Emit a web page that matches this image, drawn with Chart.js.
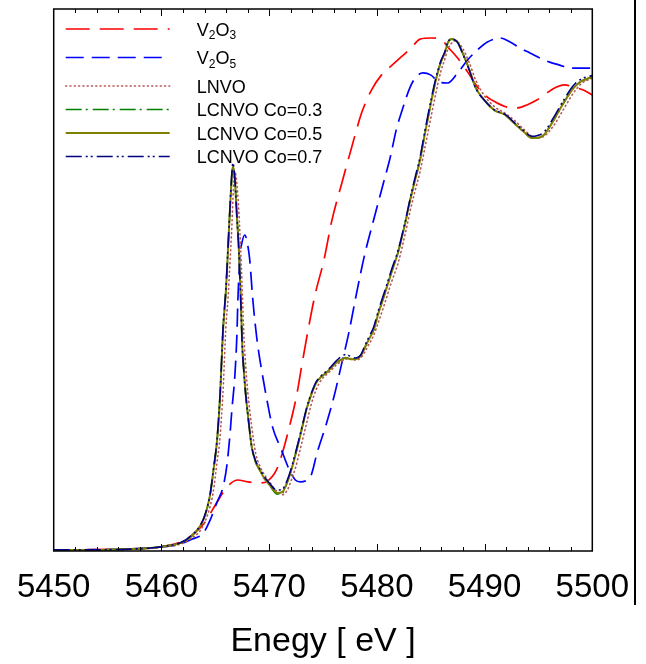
<!DOCTYPE html>
<html>
<head>
<meta charset="utf-8">
<title>V K-edge XANES</title>
<script src="https://cdn.jsdelivr.net/npm/chart.js@4.4.1/dist/chart.umd.min.js"></script>
<style>
    html, body { margin: 0; padding: 0; background: #fff; }
    canvas { display: block; }
</style>
</head>
<body>
<canvas id="xanes" width="646" height="664"></canvas>
<script>
// energy grid (eV) shared by the LNVO / LCNVO scans
var energyLCNVO = [
    5450.0, 5454.4, 5457.2, 5459.0, 5460.4, 5461.8, 5462.7, 5463.6, 5464.06, 5464.52,
    5464.8, 5465.17, 5465.44, 5465.72, 5465.99, 5466.18, 5466.36, 5466.54, 5466.64, 5466.82,
    5467.0, 5467.19, 5467.37, 5467.51, 5467.65, 5467.83, 5468.01, 5468.38, 5468.75, 5469.12,
    5469.58, 5470.04, 5470.4, 5470.77, 5471.23, 5471.69, 5472.06, 5472.43, 5472.79, 5473.16,
    5473.53, 5473.9, 5474.36, 5474.82, 5475.28, 5475.74, 5476.19, 5476.65, 5477.11, 5477.57,
    5478.03, 5478.49, 5478.86, 5479.23, 5479.69, 5480.15, 5480.7, 5481.34, 5481.99, 5482.63,
    5483.09, 5483.55, 5484.01, 5484.47, 5485.02, 5485.48, 5485.94, 5486.31, 5486.58, 5486.95,
    5487.22, 5487.5, 5487.96, 5488.6, 5489.15, 5489.98, 5490.9, 5491.91, 5492.74, 5493.66,
    5494.39, 5494.85, 5495.5, 5496.42, 5497.33, 5498.25, 5498.99, 5500.0
];
var lnvo = [
    0.004, 0.004, 0.006, 0.010, 0.016, 0.026, 0.045, 0.075, 0.110, 0.165,
    0.215, 0.330, 0.420, 0.590, 0.830, 0.930, 1.060, 1.200, 1.300, 1.400,
    1.355, 1.250, 1.100, 0.950, 0.800, 0.680, 0.590, 0.460, 0.360, 0.315,
    0.280, 0.255, 0.235, 0.218, 0.208, 0.225, 0.262, 0.305, 0.360, 0.420,
    0.480, 0.540, 0.595, 0.630, 0.650, 0.666, 0.685, 0.698, 0.708, 0.710,
    0.705, 0.712, 0.733, 0.760, 0.795, 0.845, 0.910, 0.990, 1.065, 1.170,
    1.255, 1.330, 1.400, 1.490, 1.600, 1.690, 1.770, 1.815, 1.850, 1.875,
    1.882, 1.878, 1.855, 1.800, 1.740, 1.680, 1.640, 1.615, 1.590, 1.555,
    1.530, 1.525, 1.530, 1.570, 1.630, 1.690, 1.725, 1.745
];
var co03 = [
    0.004, 0.004, 0.007, 0.011, 0.018, 0.030, 0.052, 0.092, 0.133, 0.207,
    0.288, 0.410, 0.568, 0.815, 0.963, 1.111, 1.258, 1.380, 1.418, 1.369,
    1.240, 1.111, 0.926, 0.753, 0.668, 0.576, 0.509, 0.384, 0.328, 0.299,
    0.266, 0.244, 0.222, 0.210, 0.214, 0.255, 0.299, 0.354, 0.410, 0.472,
    0.531, 0.576, 0.620, 0.642, 0.657, 0.675, 0.694, 0.705, 0.714, 0.708,
    0.708, 0.720, 0.749, 0.779, 0.815, 0.878, 0.945, 1.026, 1.105, 1.210,
    1.295, 1.369, 1.443, 1.542, 1.653, 1.738, 1.804, 1.838, 1.875, 1.889,
    1.886, 1.878, 1.838, 1.775, 1.712, 1.664, 1.627, 1.609, 1.579, 1.546,
    1.524, 1.524, 1.535, 1.590, 1.653, 1.708, 1.734, 1.749
];
var co05 = [
    0.004, 0.004, 0.007, 0.011, 0.018, 0.030, 0.052, 0.092, 0.133, 0.207,
    0.288, 0.410, 0.568, 0.815, 0.963, 1.111, 1.258, 1.387, 1.421, 1.369,
    1.240, 1.111, 0.926, 0.753, 0.668, 0.576, 0.509, 0.384, 0.328, 0.299,
    0.266, 0.244, 0.225, 0.214, 0.218, 0.255, 0.299, 0.354, 0.410, 0.472,
    0.531, 0.576, 0.620, 0.642, 0.657, 0.675, 0.694, 0.705, 0.712, 0.708,
    0.708, 0.720, 0.749, 0.779, 0.815, 0.878, 0.945, 1.026, 1.105, 1.210,
    1.295, 1.369, 1.443, 1.542, 1.653, 1.738, 1.804, 1.838, 1.875, 1.889,
    1.886, 1.878, 1.838, 1.775, 1.712, 1.664, 1.627, 1.609, 1.579, 1.546,
    1.524, 1.524, 1.535, 1.590, 1.653, 1.708, 1.734, 1.749
];
var co07 = [
    0.004, 0.004, 0.007, 0.011, 0.018, 0.031, 0.054, 0.094, 0.136, 0.210,
    0.292, 0.415, 0.575, 0.820, 0.970, 1.118, 1.265, 1.395, 1.432, 1.372,
    1.240, 1.108, 0.920, 0.750, 0.665, 0.575, 0.509, 0.386, 0.332, 0.304,
    0.272, 0.250, 0.232, 0.225, 0.228, 0.262, 0.305, 0.360, 0.415, 0.476,
    0.535, 0.580, 0.624, 0.646, 0.662, 0.680, 0.700, 0.716, 0.725, 0.718,
    0.712, 0.722, 0.755, 0.787, 0.825, 0.888, 0.955, 1.035, 1.112, 1.215,
    1.300, 1.378, 1.453, 1.552, 1.663, 1.745, 1.808, 1.842, 1.877, 1.890,
    1.886, 1.876, 1.836, 1.772, 1.710, 1.663, 1.628, 1.611, 1.582, 1.550,
    1.530, 1.532, 1.545, 1.600, 1.663, 1.718, 1.742, 1.755
];

// V2O3 reference
var energyV2O3 = [
    5450.0, 5456.25, 5459.93, 5461.76, 5462.87, 5464.06, 5465.17, 5466.18, 5467.1, 5468.01,
    5469.12, 5469.85, 5470.68, 5471.23, 5471.88, 5472.52, 5473.07, 5473.53, 5474.26, 5475.09,
    5475.83, 5476.75, 5477.67, 5478.58, 5479.5, 5480.42, 5481.34, 5482.26, 5483.18, 5484.01,
    5485.02, 5485.94, 5486.58, 5487.5, 5488.42, 5489.34, 5490.26, 5490.99, 5492.1, 5493.01,
    5493.93, 5494.85, 5495.77, 5496.69, 5497.43, 5498.25, 5499.17, 5500.0
];
var v2o3 = [
    0.004, 0.007, 0.015, 0.033, 0.059, 0.107, 0.181, 0.240, 0.262, 0.255,
    0.251, 0.258, 0.299, 0.362, 0.458, 0.568, 0.694, 0.797, 0.945, 1.074,
    1.221, 1.358, 1.491, 1.616, 1.701, 1.756, 1.790, 1.823, 1.856, 1.889,
    1.893, 1.889, 1.860, 1.819, 1.768, 1.712, 1.675, 1.657, 1.638, 1.635,
    1.646, 1.664, 1.690, 1.712, 1.720, 1.712, 1.701, 1.683
];

// V2O5 reference
var energyV2O5 = [
    5450.0, 5456.25, 5459.93, 5461.76, 5462.87, 5463.88, 5464.52, 5465.17, 5465.72, 5466.08,
    5466.36, 5466.54, 5466.82, 5467.0, 5467.1, 5467.28, 5467.46, 5467.74, 5468.01, 5468.2,
    5468.47, 5468.84, 5469.3, 5469.85, 5470.31, 5471.14, 5471.88, 5472.43, 5472.89, 5473.35,
    5473.9, 5474.45, 5475.28, 5476.01, 5476.75, 5477.39, 5478.12, 5478.86, 5479.87, 5480.61,
    5481.25, 5481.8, 5482.44, 5483.09, 5483.64, 5484.28, 5485.02, 5485.75, 5486.58, 5487.5,
    5488.42, 5489.34, 5490.26, 5491.45, 5492.37, 5493.29, 5494.21, 5495.13, 5496.05, 5496.97,
    5497.89, 5498.81, 5500.0
];
var v2o5 = [
    0.004, 0.007, 0.015, 0.026, 0.044, 0.066, 0.114, 0.181, 0.236, 0.317,
    0.428, 0.520, 0.649, 0.790, 0.926, 1.085, 1.135, 1.166, 1.129, 1.074,
    0.934, 0.790, 0.668, 0.546, 0.458, 0.373, 0.299, 0.262, 0.255, 0.258,
    0.280, 0.362, 0.465, 0.568, 0.694, 0.804, 0.952, 1.092, 1.247, 1.358,
    1.454, 1.554, 1.638, 1.712, 1.749, 1.764, 1.756, 1.731, 1.727, 1.764,
    1.812, 1.849, 1.878, 1.893, 1.878, 1.856, 1.838, 1.819, 1.804, 1.793,
    1.782, 1.782, 1.782
];

var FONT = "'Liberation Sans', Arial, Helvetica, sans-serif";

function toPoints(energy, values) {
    return energy.map(function (e, i) {
        return {x: e, y: values[i]};
    });
}

// frame with inward ticks (top and bottom), plus the edge of the next panel
var axisFrame = {
    id: 'axisFrame',
    afterDatasetsDraw: function (chart) {
        var ctx = chart.ctx, area = chart.chartArea, xs = chart.scales.x;
        ctx.save();
        ctx.strokeStyle = '#000';
        ctx.lineWidth = 1.5;
        ctx.strokeRect(area.left, area.top, area.right - area.left, area.bottom - area.top);
        ctx.lineWidth = 1;
        for (var e = xs.min + 2; e < xs.max; e += 2) {
            var px = Math.round(xs.getPixelForValue(e)) + 0.5;
            var len = (e % 10 === 0) ? 7 : 4;
            ctx.beginPath();
            ctx.moveTo(px, area.top);
            ctx.lineTo(px, area.top + len);
            ctx.moveTo(px, area.bottom);
            ctx.lineTo(px, area.bottom - len);
            ctx.stroke();
        }
        ctx.lineWidth = 2;
        ctx.beginPath();
        ctx.moveTo(chart.width - 11, 0);
        ctx.lineTo(chart.width - 11, 605);
        ctx.stroke();
        ctx.restore();
    }
};

// legend drawn by hand so that the subscripts in V2O3 / V2O5 come out right
var subLegend = {
    id: 'subLegend',
    afterDraw: function (chart) {
        var ctx = chart.ctx, left = chart.chartArea.left;
        var y = chart.chartArea.top + 20;
        ctx.save();
        ctx.textBaseline = 'alphabetic';
        chart.data.datasets.forEach(function (ds) {
            ctx.strokeStyle = ds.borderColor;
            ctx.lineWidth = ds.borderWidth;
            ctx.lineCap = ds.borderCapStyle || 'butt';
            ctx.setLineDash(ds.borderDash || []);
            ctx.beginPath();
            ctx.moveTo(left + 12, y);
            ctx.lineTo(left + 116, y);
            ctx.stroke();
            ctx.setLineDash([]);

            var x = left + 143, hasSub = false;
            ctx.fillStyle = '#000';
            for (var i = 0; i < ds.label.length; i++) {
                var code = ds.label.charCodeAt(i);
                if (code >= 0x2080 && code <= 0x2089) {
                    var d = String.fromCharCode(code - 0x2080 + 48);
                    ctx.font = '12px ' + FONT;
                    ctx.fillText(d, x, y + 10);
                    x += ctx.measureText(d).width;
                    hasSub = true;
                } else {
                    var c = ds.label.charAt(i);
                    ctx.font = '18px ' + FONT;
                    ctx.fillText(c, x, y + 6.5);
                    x += ctx.measureText(c).width;
                }
            }
            y += hasSub ? 28.5 : 23.5;
        });
        ctx.restore();
    }
};

var series = [
    {label: 'V₂O₃', data: toPoints(energyV2O3, v2o3), borderColor: '#ff0000', borderWidth: 1.7, borderDash: [24, 10]},
    {label: 'V₂O₅', data: toPoints(energyV2O5, v2o5), borderColor: '#0000ff', borderWidth: 1.7, borderDash: [18, 8]},
    {label: 'LNVO', data: toPoints(energyLCNVO, lnvo), borderColor: 'rgb(185,85,85)', borderWidth: 1.6, borderDash: [1, 3.3], borderCapStyle: 'round'},
    {label: 'LCNVO Co=0.3', data: toPoints(energyLCNVO, co03), borderColor: '#008000', borderWidth: 1.6, borderDash: [16, 4, 2, 5]},
    {label: 'LCNVO Co=0.5', data: toPoints(energyLCNVO, co05), borderColor: '#808000', borderWidth: 2},
    {label: 'LCNVO Co=0.7', data: toPoints(energyLCNVO, co07), borderColor: '#000080', borderWidth: 1.6, borderDash: [16, 4, 2, 3, 2, 4]}
];
series.forEach(function (s, i) {
    s.pointRadius = 0;
    s.fill = false;
    s.cubicInterpolationMode = 'monotone';
    s.order = series.length - i;
});

new Chart(document.getElementById('xanes').getContext('2d'), {
    type: 'line',
    data: {datasets: series},
    plugins: [axisFrame, subLegend],
    options: {
        responsive: false,
        animation: false,
        devicePixelRatio: 1,
        layout: {padding: {left: 52, right: 50, top: 9, bottom: 0}},
        plugins: {legend: {display: false}, tooltip: {enabled: false}},
        scales: {
            x: {
                type: 'linear',
                min: 5450,
                max: 5500,
                grid: {display: false, drawTicks: false},
                border: {display: false},
                ticks: {
                    stepSize: 10,
                    color: '#000',
                    padding: 17,
                    maxRotation: 0,
                    font: {family: FONT, size: 33},
                    callback: function (v) { return String(v); }
                },
                title: {
                    display: true,
                    text: 'Enegy [ eV ]',
                    color: '#000',
                    font: {family: FONT, size: 34},
                    padding: {top: 0, bottom: 2}
                },
                afterFit: function (scale) { scale.height = 113; }
            },
            y: {
                display: false,
                min: 0,
                max: 2.0
            }
        }
    }
});
</script>
</body>
</html>
